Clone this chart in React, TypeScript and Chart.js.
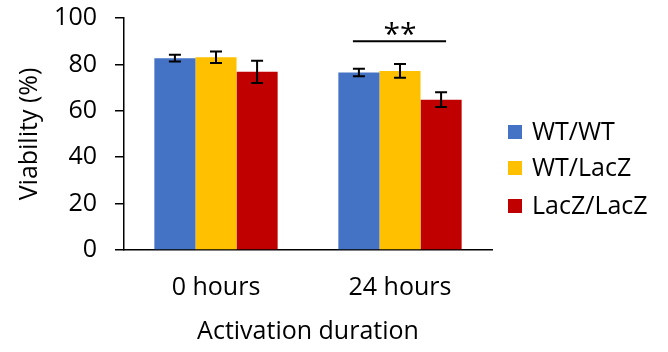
import React, { useEffect, useRef } from "react";
import { Chart, registerables } from "chart.js";

Chart.register(...registerables);

const categories = ["0 hours", "24 hours"];
const seriesNames = ["WT/WT", "WT/LacZ", "LacZ/LacZ"];
const wtwt = [82.7, 76.5];
const wtlacz = [83.1, 77.2];
const laczlacz = [76.8, 64.8];
const wtwtErr = [1.5, 1.6];
const wtlaczErr = [2.5, 3.0];
const laczlaczErr = [4.8, 3.2];
const colors = ["#4472C4", "#FFC000", "#C00000"];
const yTicks = [0, 20, 40, 60, 80, 100];
const sigLabel = "**";
const sigLevel = 90;

const FONT = "'Open Sans', sans-serif";

export default function App() {
  const ref = useRef<HTMLCanvasElement>(null);
  useEffect(() => {
    const errs = [wtwtErr, wtlaczErr, laczlaczErr];
    const plugin = {
      id: "extras",
      afterDatasetsDraw(chart: any) {
        const ctx = chart.ctx;
        const y = chart.scales.y;
        ctx.save();
        ctx.strokeStyle = "#000";
        ctx.lineWidth = 2;
        chart.data.datasets.forEach((ds: any, di: number) => {
          const meta = chart.getDatasetMeta(di);
          meta.data.forEach((bar: any, i: number) => {
            const v = ds.data[i];
            const e = errs[di][i];
            const yt = y.getPixelForValue(v + e);
            const yb = y.getPixelForValue(v - e);
            const x = bar.x;
            ctx.beginPath();
            ctx.moveTo(x, yt);
            ctx.lineTo(x, yb);
            ctx.moveTo(x - 6, yt);
            ctx.lineTo(x + 6, yt);
            ctx.moveTo(x - 6, yb);
            ctx.lineTo(x + 6, yb);
            ctx.stroke();
          });
        });
        // significance
        const b1 = chart.getDatasetMeta(0).data[1];
        const b3 = chart.getDatasetMeta(2).data[1];
        const ly = y.getPixelForValue(sigLevel);
        ctx.beginPath();
        ctx.moveTo(b1.x - 6, ly);
        ctx.lineTo(b3.x + 5, ly);
        ctx.stroke();
        ctx.fillStyle = "#000";
        ctx.font = `30px ${FONT}`;
        ctx.textAlign = "center";
        ctx.textBaseline = "middle";
        ctx.fillText(sigLabel, (b1.x + b3.x) / 2, ly - 6);
        // legend
        const lx = 508;
        const rows = [132, 168, 206];
        ctx.font = `25px ${FONT}`;
        ctx.textAlign = "left";
        chart.data.datasets.forEach((ds: any, di: number) => {
          ctx.fillStyle = ds.backgroundColor;
          ctx.fillRect(lx, rows[di] - 7, 14, 14);
          ctx.fillStyle = "#000";
          ctx.fillText(ds.label, lx + 24, rows[di] + 1);
        });
        ctx.restore();
      },
    };
    const chart = new Chart(ref.current!, {
      type: "bar",
      data: {
        labels: categories,
        datasets: [wtwt, wtlacz, laczlacz].map((d, i) => ({
          label: seriesNames[i],
          data: d,
          backgroundColor: colors[i],
          borderWidth: 0,
          barPercentage: 1,
          categoryPercentage: 0.67,
        })),
      },
      options: {
        animation: false,
        responsive: false,
        layout: { autoPadding: false, padding: { top: 18, right: 176, left: 0, bottom: 0 } },
        plugins: { legend: { display: false }, tooltip: { enabled: false } },
        scales: {
          x: {
            grid: { display: false, drawTicks: false },
            border: { display: true, color: "#000", width: 1.5 },
            ticks: { color: "#000", font: { family: FONT, size: 25 }, padding: 23 },
            title: {
              display: true,
              text: "Activation duration",
              color: "#000",
              font: { family: FONT, size: 25 },
              padding: { top: 8, bottom: 5 },
            },
            afterFit: (s: any) => {
              s.height = 102;
            },
          },
          y: {
            min: 0,
            max: 100,
            afterBuildTicks: (s: any) => {
              s.ticks = yTicks.map((v) => ({ value: v }));
            },
            grid: {
              display: true,
              drawOnChartArea: false,
              drawTicks: true,
              tickLength: 9,
              color: "#000",
              lineWidth: 1.5,
            },
            border: { display: true, color: "#000", width: 1.5 },
            ticks: { color: "#000", font: { family: FONT, size: 25 }, padding: 18 },
            title: {
              display: true,
              text: "Viability (%)",
              color: "#000",
              font: { family: FONT, size: 25 },
              padding: { top: 15, bottom: 6 },
            },
            afterFit: (s: any) => {
              s.width = 124;
              s.paddingTop = 0;
              s.paddingBottom = 0;
            },
          },
        },
      },
      plugins: [plugin],
    });
    return () => chart.destroy();
  }, []);
  return (
    <div style={{ position: "fixed", left: 0, top: 0, width: 668, height: 352, background: "#fff" }}>
      <canvas ref={ref} width={668} height={352} />
    </div>
  );
}
